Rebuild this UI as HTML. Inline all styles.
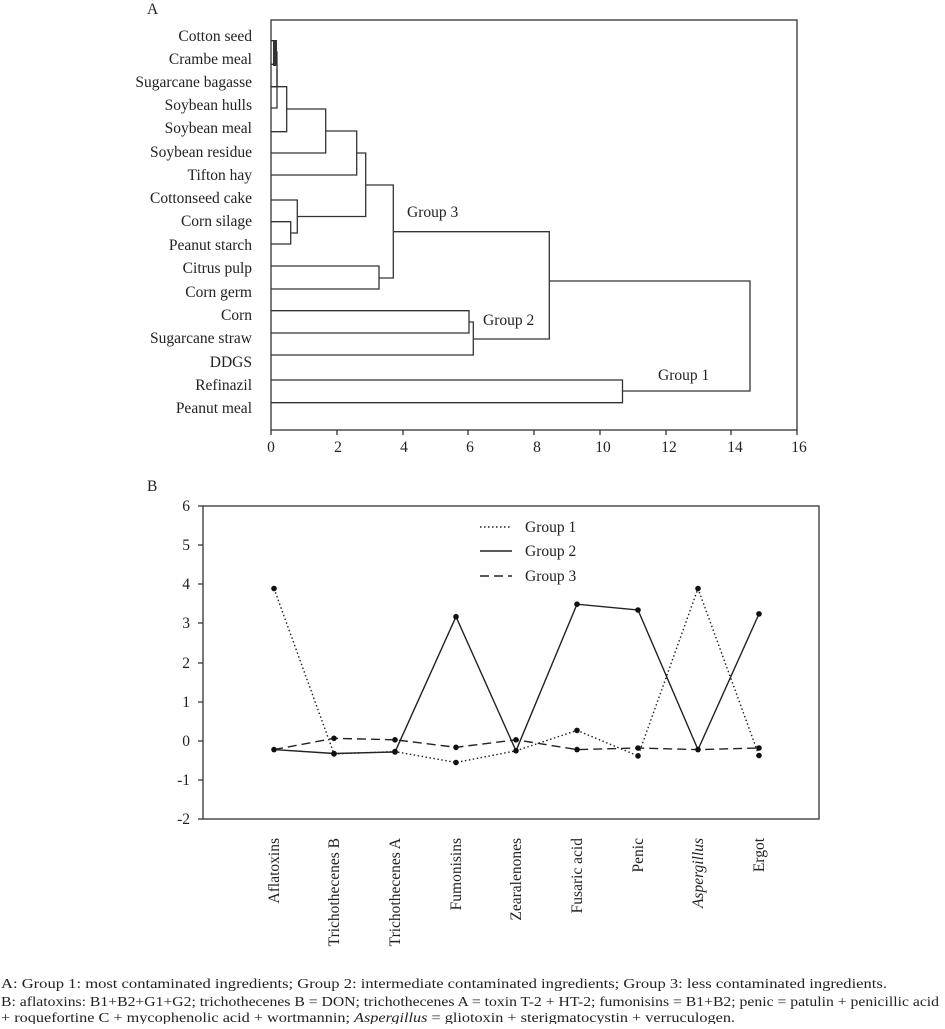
<!DOCTYPE html>
<html><head><meta charset="utf-8"><style>
body{margin:0;background:#fff;}
svg text{font-family:"Liberation Serif",serif;fill:#222;}
</style></head><body>
<svg width="945" height="1024" xmlns="http://www.w3.org/2000/svg">
<g font-size="15.5">
<text x="147" y="14">A</text>
<rect x="271" y="20" width="526" height="410" fill="none" stroke="#333" stroke-width="1.3"/>
<g text-anchor="end">
<text x="252" y="41">Cotton seed</text>
<text x="252" y="64">Crambe meal</text>
<text x="252" y="87">Sugarcane bagasse</text>
<text x="252" y="110">Soybean hulls</text>
<text x="252" y="133">Soybean meal</text>
<text x="252" y="157">Soybean residue</text>
<text x="252" y="180">Tifton hay</text>
<text x="252" y="203">Cottonseed cake</text>
<text x="252" y="226">Corn silage</text>
<text x="252" y="250">Peanut starch</text>
<text x="252" y="273">Citrus pulp</text>
<text x="252" y="297">Corn germ</text>
<text x="252" y="320">Corn</text>
<text x="252" y="343">Sugarcane straw</text>
<text x="252" y="367">DDGS</text>
<text x="252" y="390">Refinazil</text>
<text x="252" y="413">Peanut meal</text>
</g>
<g fill="none" stroke="#333" stroke-width="1.3">
<path d="M271 40.7H275V64.3H271"/>
<path d="M275 52H277V86.7H271"/>
<path d="M277 69H277V108H271"/>
<path d="M271 86.7H286.7V131.7H271"/>
<path d="M286.7 109H325.7V153H271"/>
<path d="M325.7 131H356.7V175H271"/>
<path d="M271 221.7H290.7V244H271"/>
<path d="M271 200H297.3V233H290.7"/>
<path d="M356.7 153H365.7V216.5H297.3"/>
<path d="M271 266H379V289H271"/>
<path d="M365.7 185H393.3V278H379"/>
<path d="M271 310.7H469V333H271"/>
<path d="M469 322H473.3V355H271"/>
<path d="M393.3 231.7H549.3V339H473.3"/>
<path d="M271 380H622.5V402.7H271"/>
<path d="M549.3 281H750V391H622.5"/>
</g>
<rect x="273" y="40" width="4" height="26" fill="#333"/>
<text x="407" y="217">Group 3</text>
<text x="483" y="325">Group 2</text>
<text x="658" y="380">Group 1</text>
<g stroke="#333" stroke-width="1.3">
<path d="M271 430v5M337 430v5M403 430v5M468 430v5M534 430v5M600 430v5M666 430v5M731 430v5M797 430v5"/>
</g>
<g text-anchor="middle">
<text x="271" y="452">0</text><text x="338" y="452">2</text><text x="404" y="452">4</text><text x="470" y="452">6</text><text x="537" y="452">8</text><text x="603" y="452">10</text><text x="669" y="452">12</text><text x="735" y="452">14</text><text x="799" y="452">16</text>
</g>

<text x="147" y="491">B</text>
<rect x="203" y="506" width="616" height="313" fill="none" stroke="#333" stroke-width="1.3"/>
<g stroke="#333" stroke-width="1.3">
<path d="M198 506h5M198 545h5M198 584h5M198 623h5M198 663h5M198 702h5M198 741h5M198 780h5M198 819h5"/>
</g>
<g text-anchor="end">
<text x="190" y="511">6</text><text x="190" y="550">5</text><text x="190" y="589">4</text><text x="190" y="628">3</text><text x="190" y="668">2</text><text x="190" y="707">1</text><text x="190" y="746">0</text><text x="190" y="785">-1</text><text x="190" y="824">-2</text>
</g>
<g fill="none" stroke="#222" stroke-width="1.4">
<polyline stroke-dasharray="1.5,2.5" points="274,588.5 334,753.9 395,751.6 456,762.5 516,750.8 577,730.4 638,755.9 698,588.5 759,755.5"/>
<polyline points="274,749.6 334,753.5 395,752 456,616.7 516,750.8 577,604.2 638,610 698,749.6 759,613.9"/>
<polyline stroke-dasharray="9,5" points="274,749.6 334,738.3 395,739.8 456,747.3 516,739.8 577,749.6 638,748 698,749.6 759,748"/>
</g>
<g fill="#111">
<circle cx="274" cy="588.5" r="2.8"/><circle cx="334" cy="753.9" r="2.8"/><circle cx="395" cy="751.6" r="2.8"/><circle cx="456" cy="762.5" r="2.8"/><circle cx="516" cy="750.8" r="2.8"/><circle cx="577" cy="730.4" r="2.8"/><circle cx="638" cy="755.9" r="2.8"/><circle cx="698" cy="588.5" r="2.8"/><circle cx="759" cy="755.5" r="2.8"/>
<circle cx="274" cy="749.6" r="2.8"/><circle cx="334" cy="753.5" r="2.8"/><circle cx="395" cy="752" r="2.8"/><circle cx="456" cy="616.7" r="2.8"/><circle cx="577" cy="604.2" r="2.8"/><circle cx="638" cy="610" r="2.8"/><circle cx="698" cy="749.6" r="2.8"/><circle cx="759" cy="613.9" r="2.8"/>
<circle cx="334" cy="738.3" r="2.8"/><circle cx="395" cy="739.8" r="2.8"/><circle cx="456" cy="747.3" r="2.8"/><circle cx="516" cy="739.8" r="2.8"/><circle cx="577" cy="749.6" r="2.8"/><circle cx="638" cy="748" r="2.8"/><circle cx="759" cy="748" r="2.8"/>
</g>
<g stroke="#222" stroke-width="1.4">
<line x1="480" y1="527" x2="512" y2="527" stroke-dasharray="1.5,2.5"/>
<line x1="480" y1="551" x2="512" y2="551"/>
<line x1="480" y1="576" x2="512" y2="576" stroke-dasharray="9,5"/>
</g>
<text x="525" y="532">Group 1</text>
<text x="525" y="556">Group 2</text>
<text x="525" y="581">Group 3</text>
<g text-anchor="end">
<text transform="translate(279,838) rotate(-90)">Aflatoxins</text>
<text transform="translate(339,838) rotate(-90)">Trichothecenes B</text>
<text transform="translate(400,838) rotate(-90)">Trichothecenes A</text>
<text transform="translate(461,838) rotate(-90)">Fumonisins</text>
<text transform="translate(521,838) rotate(-90)">Zearalenones</text>
<text transform="translate(582,838) rotate(-90)">Fusaric acid</text>
<text transform="translate(643,838) rotate(-90)">Penic</text>
<text transform="translate(703,838) rotate(-90)" font-style="italic">Aspergillus</text>
<text transform="translate(764,838) rotate(-90)">Ergot</text>
</g>
</g>
<g font-size="14">
<text x="1" y="988" textLength="886" lengthAdjust="spacingAndGlyphs">A: Group 1: most contaminated ingredients; Group 2: intermediate contaminated ingredients; Group 3: less contaminated ingredients.</text>
<text x="1" y="1006" textLength="938" lengthAdjust="spacingAndGlyphs">B: aflatoxins: B1+B2+G1+G2; trichothecenes B = DON; trichothecenes A = toxin T-2 + HT-2; fumonisins = B1+B2; penic = patulin + penicillic acid</text>
<text x="1" y="1022" textLength="734" lengthAdjust="spacingAndGlyphs">+ roquefortine C + mycophenolic acid + wortmannin; <tspan font-style="italic">Aspergillus</tspan> = gliotoxin + sterigmatocystin + verruculogen.</text>
</g>
</svg>
</body></html>
